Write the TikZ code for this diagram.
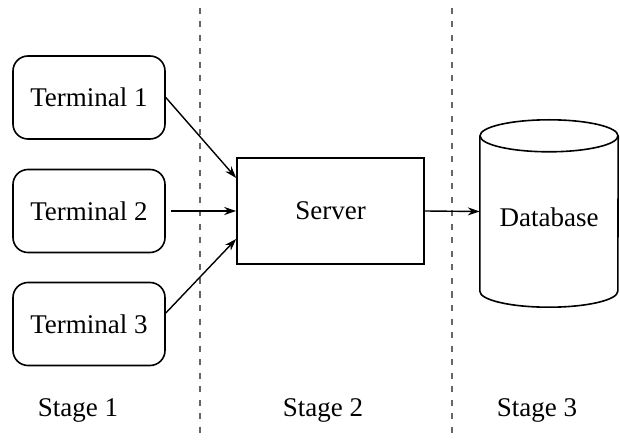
\documentclass[tikz,border=0pt]{standalone}
\usepackage{fontspec}
\setmainfont{Liberation Serif}
\usetikzlibrary{arrows.meta}

\begin{document}
\begin{tikzpicture}[x=1pt, y=1pt, >={Stealth[length=12pt, width=8pt]}, every node/.style={font=\fontsize{27}{30}\selectfont},
	term/.style={draw, line width=1.6pt, rounded corners=15pt, minimum width=152pt, minimum height=83pt},
	link/.style={->, line width=1.4pt},
	divider/.style={draw=black!60, line width=1.5pt, dash pattern=on 6pt off 7.5pt}]
	\useasboundingbox (0,0) rectangle (620,439);
	% 1. 阶段分隔虚线
	\draw[divider] (200,431) -- (200,0);
	\draw[divider] (452,431) -- (452,0);

	% 2. 终端、服务器与数据库
	\node[term] (t1) at (89,341.5) {Terminal 1};
	\node[term] (t2) at (89,228) {Terminal 2};
	\node[term] (t3) at (89,115) {Terminal 3};
	\node[draw, line width=1.6pt, minimum width=187pt, minimum height=106pt] (srv) at (330.5,228) {Server};
	\node[minimum width=138pt, minimum height=187pt, inner sep=0pt] (db) at (549,225.5) {};
	\draw[line width=1.6pt] ([yshift=-16pt]db.north west) -- ([yshift=16pt]db.south west)
		arc[start angle=180, end angle=360, x radius=69pt, y radius=16pt] -- ([yshift=-16pt]db.north east);
	\draw[line width=1.6pt] ([yshift=-16pt]db.north) ellipse[x radius=69pt, y radius=16pt];
	\node (dbtxt) at (549,222) {Database};

	% 3. 连接箭头
	\draw[link] (t1.east) -- ([yshift=33pt]srv.west);
	\draw[link] ([xshift=5pt]t2.east) -- (srv.west);
	\draw[link] ([yshift=11pt]t3.east) -- ([yshift=-28pt]srv.west);
	\draw[link] (srv.east) -- ([yshift=2pt]db.west);

	% 4. 阶段标签
	\node (s1) at (78,29) {Stage 1};
	\node (s2) at (323,29) {Stage 2};
	\node (s3) at (537,29) {Stage 3};
\end{tikzpicture}
\end{document}
